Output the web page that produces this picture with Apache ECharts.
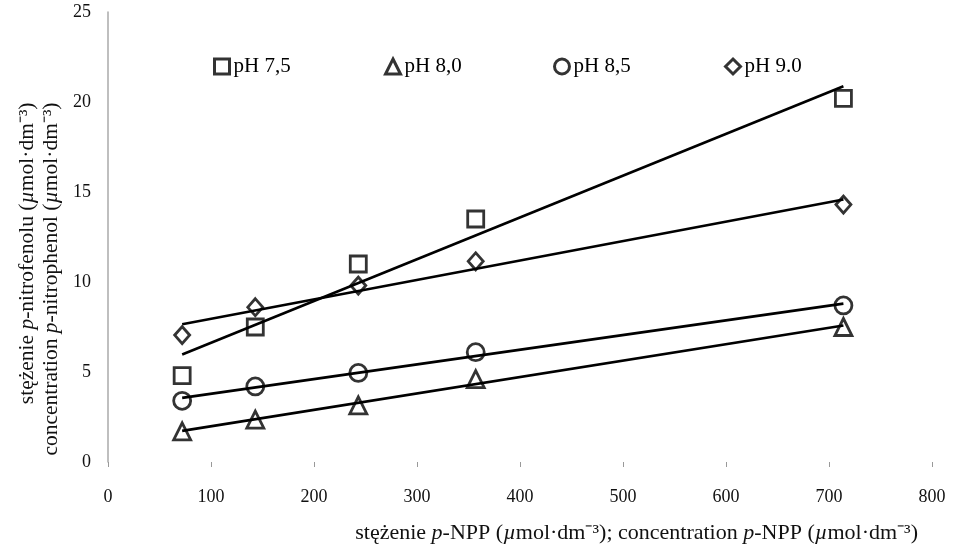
<!DOCTYPE html>
<html><head><meta charset="utf-8">
<script src="https://cdn.jsdelivr.net/npm/echarts@6/dist/echarts.min.js"></script>
<style>html,body{margin:0;padding:0;background:#fff}#c{width:955px;height:550px}</style>
</head><body><div id="c"></div>
<script>
// Data
var concentrations = [72, 143, 243, 357, 714];          // p-NPP, µmol·dm⁻³
var pH75 = [4.8, 7.5, 11.0, 13.5, 20.2];
var pH80 = [1.7, 2.35, 3.15, 4.6, 7.5];
var pH85 = [3.4, 4.2, 4.95, 6.1, 8.7];
var pH90 = [7.05, 8.6, 9.8, 11.15, 14.3];
var seriesNames = ['pH 7,5', 'pH 8,0', 'pH 8,5', 'pH 9.0'];
var seriesSymbols = ['rect', 'triangle', 'circle', 'diamond'];
var xTicks = [0, 100, 200, 300, 400, 500, 600, 700, 800];
var yTicks = [0, 5, 10, 15, 20, 25];

var FONT = 'Liberation Serif';
var allY = [pH75, pH80, pH85, pH90];

function fit(xs, ys) {
  var n = xs.length, mx = 0, my = 0;
  for (var i = 0; i < n; i++) { mx += xs[i]; my += ys[i]; }
  mx /= n; my /= n;
  var sxx = 0, sxy = 0;
  for (var j = 0; j < n; j++) { sxx += (xs[j]-mx)*(xs[j]-mx); sxy += (xs[j]-mx)*(ys[j]-my); }
  var b = sxy / sxx, a = my - b * mx;
  var x0 = Math.min.apply(null, xs), x1 = Math.max.apply(null, xs);
  return [[x0, a + b * x0], [x1, a + b * x1]];
}

var series = [];
allY.forEach(function (ys, k) {
  series.push({
    type: 'line', name: seriesNames[k] + ' trend', data: fit(concentrations, ys),
    showSymbol: false, symbol: 'none', silent: true, z: 2,
    lineStyle: { color: '#000', width: 2.6 }
  });
});
allY.forEach(function (ys, k) {
  var sym = seriesSymbols[k];
  series.push({
    type: 'scatter', name: seriesNames[k],
    data: concentrations.map(function (x, i) { return [x, ys[i]]; }),
    symbol: sym,
    symbolSize: sym === 'rect' ? 16 : (sym === 'diamond' ? [15, 17] : 17),
    z: 3,
    itemStyle: { color: 'rgba(255,255,255,0)', borderColor: '#000', borderWidth: 2.8 }
  });
});

var legendLefts = [208, 379, 548, 719];
var legends = seriesNames.map(function (nm, k) {
  return {
    data: [nm], left: legendLefts[k], top: 51,
    itemWidth: 15, itemHeight: 15, itemGap: 0,
    textStyle: { fontFamily: FONT, fontSize: 21, color: '#000', padding: [0, 0, 0, -1] },
    itemStyle: { borderWidth: 3, borderColor: '#000', color: 'rgba(255,255,255,0)' }
  };
});

function rich(size, lh, align) {
  var a = { fontFamily: FONT, fontSize: size, color: '#111' };
  if (lh) a.lineHeight = lh;
  if (align) a.align = align;
  var i = Object.assign({}, a, { fontStyle: 'italic' });
  return { a: a, i: i };
}

var chart = echarts.init(document.getElementById('c'), null, { renderer: 'canvas' });
chart.setOption({
  animation: false,
  backgroundColor: '#fff',
  textStyle: { fontFamily: FONT },
  grid: { left: 108, right: 23, top: 12, bottom: 88, containLabel: false },
  legend: legends,
  xAxis: {
    type: 'value', min: 0, max: 800, interval: 100,
    axisLine: { show: false },
    axisTick: { show: true, length: 5, inside: false, lineStyle: { color: '#999', width: 1 } },
    splitLine: { show: false },
    axisLabel: { fontFamily: FONT, fontSize: 18, color: '#111', margin: 26,
      formatter: function (v) { return xTicks.indexOf(v) >= 0 ? String(v) : ''; } },
    name: '{a|stężenie }{i|p}{a|-NPP (}{i|µ}{a|mol·dm⁻³); concentration }{i|p}{a|-NPP (}{i|µ}{a|mol·dm⁻³)}',
    nameLocation: 'end', nameGap: -14,
    nameTextStyle: {
      align: 'right', verticalAlign: 'top', padding: [60, 0, 0, 0],
      rich: rich(22)
    }
  },
  yAxis: {
    type: 'value', min: 0, max: 25, interval: 5,
    axisLine: { show: true, lineStyle: { color: '#aaa', width: 1.5 } },
    axisTick: { show: false },
    splitLine: { show: false },
    axisLabel: { fontFamily: FONT, fontSize: 18, color: '#111', margin: 17,
      formatter: function (v) { return yTicks.indexOf(v) >= 0 ? String(v) : ''; } },
    name: '{a|stężenie }{i|p}{a|-nitrofenolu (}{i|µ}{a|mol·dm⁻³)}\n{a|concentration }{i|p}{a|-nitrophenol (}{i|µ}{a|mol·dm⁻³)}',
    nameLocation: 'middle', nameRotate: 90, nameGap: 32,
    nameTextStyle: {
      padding: [0, 84, 0, 0],
      rich: rich(21.5, 24, 'right')
    }
  },
  series: series
});
</script>
</body></html>
